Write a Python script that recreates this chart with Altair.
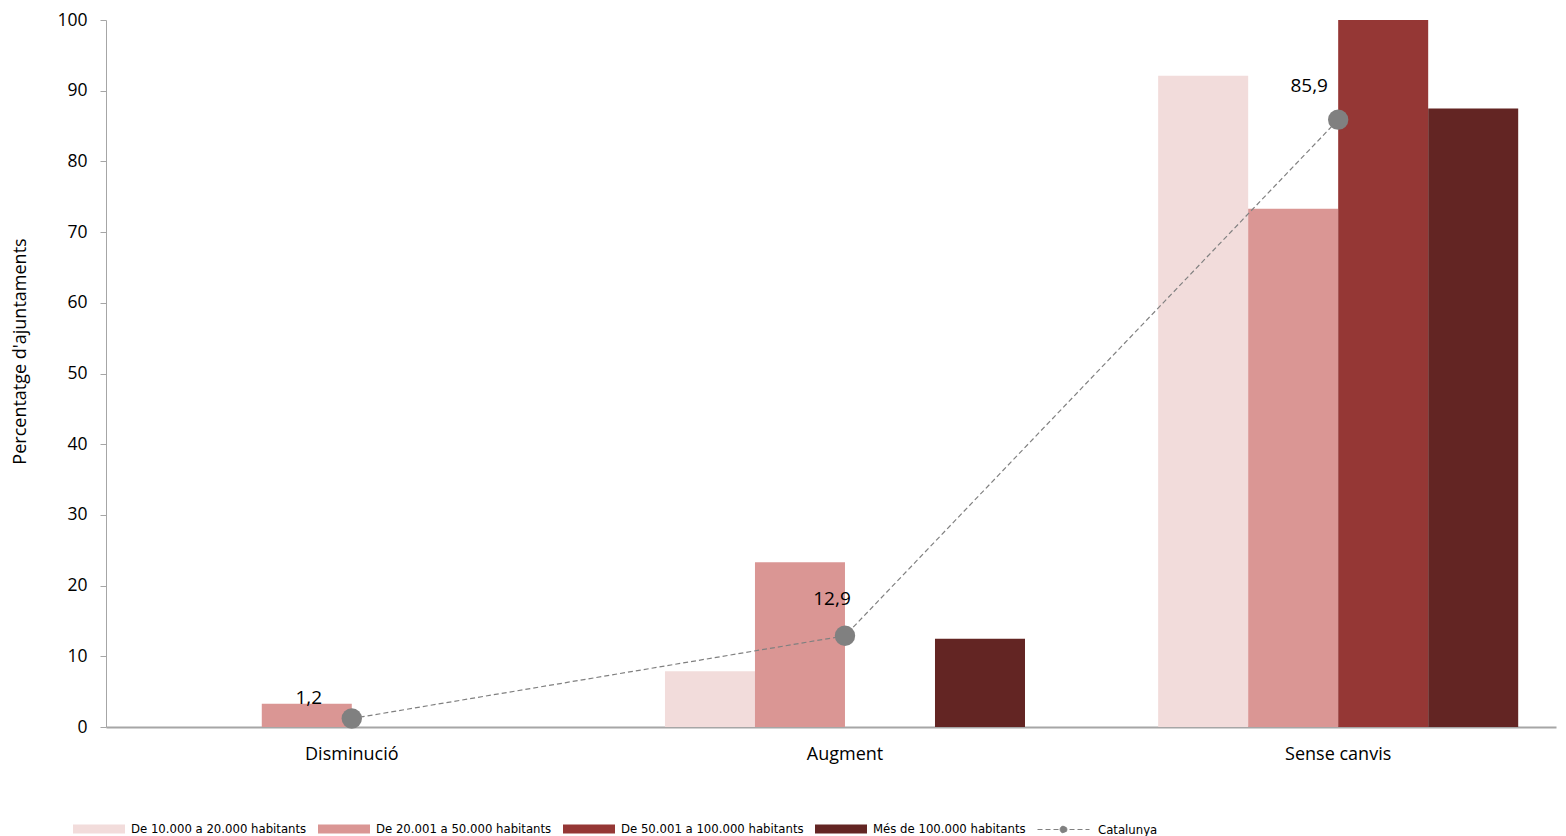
import altair as alt
import pandas as pd

categories = ["Disminució", "Augment", "Sense canvis"]
series = [
    "De 10.000 a 20.000 habitants",
    "De 20.001 a 50.000 habitants",
    "De 50.001 a 100.000 habitants",
    "Més de 100.000 habitants",
]
v_10_20 = [0, 7.9, 92.1]
v_20_50 = [3.3, 23.3, 73.3]
v_50_100 = [0, 0, 100]
v_100 = [0, 12.5, 87.5]
catalunya = [1.2, 12.9, 85.9]
catalunya_labels = ["1,2", "12,9", "85,9"]
colors = ["#F2DCDB", "#DA9694", "#953735", "#632523"]

FONT = "Open Sans"
LEGEND_FONT = "DejaVu Sans Condensed, Liberation Sans Narrow, sans-serif"

rows = []
for s, vals in zip(series, [v_10_20, v_20_50, v_50_100, v_100]):
    for c, v in zip(categories, vals):
        rows.append({"categoria": c, "serie": s, "valor": v})
bars_df = pd.DataFrame(rows)

cat_df = pd.DataFrame({
    "categoria": categories,
    "valor": catalunya,
    "etiqueta": catalunya_labels,
    "nom": ["Catalunya"] * 3,
})

x_enc = alt.X(
    "categoria:N",
    sort=categories,
    scale=alt.Scale(paddingInner=0.27, paddingOuter=0.105, align=0.635),
    axis=alt.Axis(
        title=None, labelAngle=0, ticks=False, labelPadding=18,
        labelFontSize=18, labelColor="#000000", labelFont=FONT,
        domainColor="#A6A6A6", domainWidth=2,
    ),
)
y_enc = alt.Y(
    "valor:Q",
    scale=alt.Scale(domain=[0, 100], nice=False),
    axis=alt.Axis(
        title="Percentatge d'ajuntaments", values=list(range(0, 101, 10)),
        grid=False, tickSize=6, tickColor="#A6A6A6", domainColor="#A6A6A6",
        labelFontSize=17.5, labelColor="#000000", labelFont=FONT, labelPadding=13,
        titleFontSize=18, titleFont=FONT, titleFontWeight="normal", titleColor="#000000",
        titleX=-86, titleY=331, titleAngle=-90, titleBaseline="middle", titleAlign="center",
    ),
)

bars = alt.Chart(bars_df).mark_bar().encode(
    x=x_enc,
    xOffset=alt.XOffset("serie:N", sort=series, scale=alt.Scale(paddingInner=0, paddingOuter=0)),
    y=y_enc,
    color=alt.Color(
        "serie:N", sort=series,
        scale=alt.Scale(domain=series, range=colors),
        legend=alt.Legend(
            title=None, orient="none", direction="horizontal", legendX=-33, legendY=783,
            symbolType="M-1,-0.17H1V0.17H-1Z", symbolSize=2704, symbolStrokeWidth=0,
            labelFontSize=13, labelFont=LEGEND_FONT, labelColor="#000000", columnPadding=11,
            symbolOffset=0, labelOffset=6, labelLimit=400,
        ),
    ),
)

line = alt.Chart(cat_df).mark_line(color="#808080", strokeWidth=1.2).encode(
    x=alt.X("categoria:N", sort=categories),
    y="valor:Q",
    strokeDash=alt.StrokeDash(
        "nom:N",
        scale=alt.Scale(domain=["Catalunya"], range=[[5, 3]]),
        legend=alt.Legend(
            title=None, orient="none", direction="horizontal", legendX=931, legendY=783,
            symbolType="M-1,0H1M-0.13,0A0.13,0.13 0 1,1 0.13,0A0.13,0.13 0 1,1 -0.13,0Z",
            symbolSize=2704, symbolStrokeColor="#808080", symbolFillColor="#808080",
            symbolStrokeWidth=1, labelFontSize=13, labelFont=LEGEND_FONT, labelColor="#000000",
            labelOffset=8, labelLimit=400,
        ),
    ),
)

points = alt.Chart(cat_df).mark_circle(size=415, color="#808080", opacity=1).encode(
    x=alt.X("categoria:N", sort=categories),
    y="valor:Q",
)

offsets = [(-43, -21), (-13, -37), (-29, -34)]
texts = []
for lab, (dx, dy) in zip(catalunya_labels, offsets):
    texts.append(
        alt.Chart(cat_df).transform_filter(alt.datum.etiqueta == lab)
        .mark_text(dx=dx, dy=dy, fontSize=19, font=FONT, color="#000000", baseline="middle")
        .encode(x=alt.X("categoria:N", sort=categories), y="valor:Q", text="etiqueta:N")
    )

chart = alt.layer(bars, line, points, *texts).properties(
    width=1450, height=707,
    autosize=alt.AutoSizeParams(type="none"),
    padding={"left": 98, "top": 12, "right": 2, "bottom": 109},
).configure(background="#FFFFFF").configure_view(stroke=None)

chart.save("out.html", embed_options={"renderer": "svg", "actions": False})
